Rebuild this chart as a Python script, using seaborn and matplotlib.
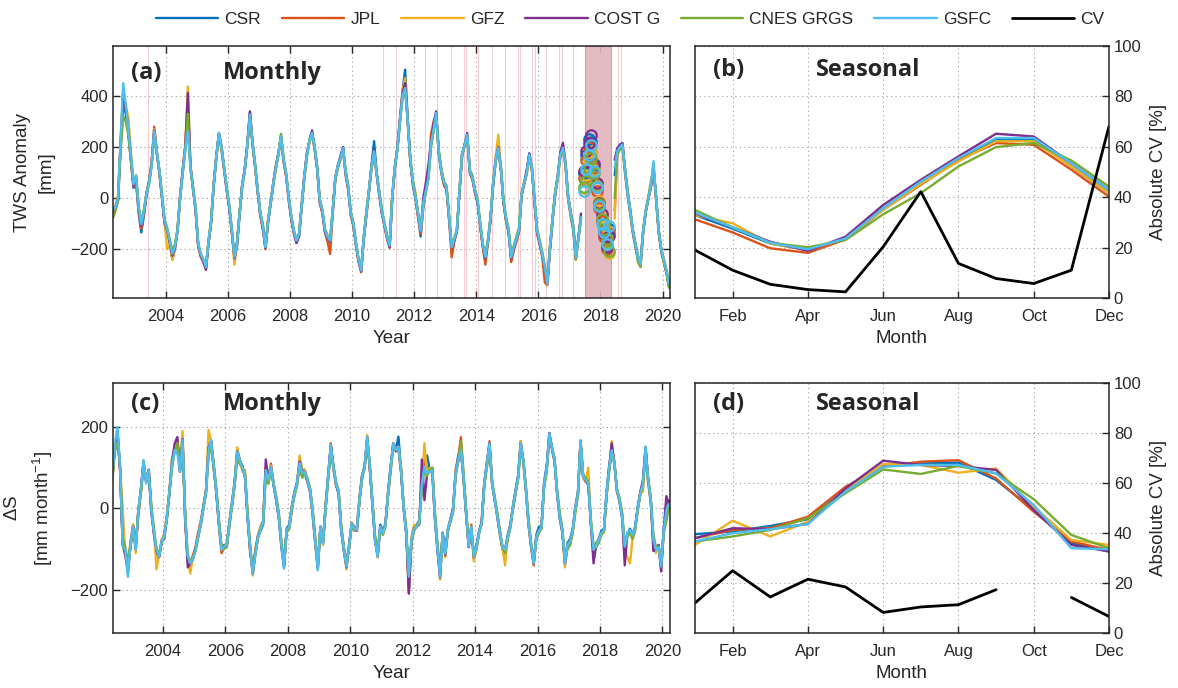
import numpy as np
import pandas as pd
import matplotlib
matplotlib.use("Agg")
import matplotlib.pyplot as plt
import seaborn as sns

nan = np.nan

# ---------------------------------------------------------------- data
products = ["CSR", "JPL", "GFZ", "COST G", "CNES GRGS", "GSFC"]
colors = ["#0072BD", "#D95319", "#EDB120", "#7E2F8E", "#77AC30", "#4DBEEE"]

tws_start = "2002-04"   # monthly TWS anomaly [mm], Apr 2002 - Apr 2020
tws_csr = [
    -60, -40, -10, 200, 380, 330, 250, 150, 40,
    60, -60, -134, -70, 10, 60, 130, 255, 175, 100, 0, -95,
    -125, -170, -225, -195, -130, 5, 105, 200, 300, 125, 40, -45,
    -185, -225, -245, -275, -175, -90, 50, 165, 250, 195, 115, 35,
    -35, -130, -225, -185, -65, 45, 110, 205, 335, 215, 125, 25,
    -65, -115, -195, -95, -25, 50, 120, 175, 240, 145, 90, -5,
    -80, -135, -175, -150, -35, 75, 165, 225, 260, 195, 115, -15,
    -55, -130, -160, -175, -55, 75, 125, 160, 200, 95, 35, -65,
    -105, -185, -245, -285, -160, -65, 25, 130, 223, 100, 15, -55,
    -105, -155, -190, 0, 115, 200, 310, 420, 503, 310, 145, 55,
    0, -70, -150, -40, 25, 80, 205, 270, 330, 175, 100, 55,
    35, -80, -200, -165, -130, 25, 165, 210, 245, 100, 75, 25,
    -15, -105, -185, -235, -170, -85, 50, 145, 195, 115, -15, -85,
    -130, -235, -200, -165, -130, 10, 55, 105, 175, 115, -15, -130,
    -175, -225, -280, -330, -200, -85, 15, 85, 175, 200, 130, 0,
    -65, -120, -235, -155, -75, nan, nan, nan, nan, nan, nan, nan,
    nan, nan, nan, nan, nan, 90, 185, 205, 215, 105, 15, -55,
    -130, -185, -235, -250, -130, -55, 0, 45, 130, 0, -130, -205,
    -245, -285, -330, -310]
tws_jpl = [
    -70, -45, -5, 210, 400, 350, 260, 140, 45,
    70, -50, -120, -60, 20, 70, 140, 280, 185, 95, 5, -100,
    -130, -175, -240, -200, -120, 10, 110, 210, 380, 120, 35, -50,
    -190, -230, -250, -265, -170, -85, 60, 165, 245, 190, 110, 30,
    -40, -135, -240, -175, -55, 55, 115, 210, 330, 210, 120, 20,
    -70, -120, -200, -85, -15, 60, 125, 170, 235, 145, 85, -10,
    -85, -140, -170, -145, -25, 85, 175, 220, 250, 190, 110, -20,
    -60, -135, -170, -218, -60, 70, 120, 155, 190, 90, 30, -70,
    -110, -185, -250, -290, -160, -70, 20, 115, 175, 90, 10, -60,
    -110, -160, -195, 0, 115, 195, 305, 410, 440, 295, 140, 50,
    -5, -75, -140, -30, 35, 90, 250, 300, 330, 175, 100, 50,
    35, -85, -231, -170, -130, 25, 170, 205, 240, 100, 75, 20,
    -20, -110, -190, -260, -175, -90, 50, 150, 200, 110, -20, -90,
    -135, -250, -205, -170, -135, 10, 55, 95, 165, 110, -20, -140,
    -180, -230, -330, -340, -200, -90, 15, 75, 165, 190, 125, -5,
    -70, -125, -240, -160, -80, nan, nan, nan, nan, nan, nan, nan,
    nan, nan, nan, nan, nan, -49, 175, 200, 205, 100, 15, -60,
    -135, -190, -240, -265, -135, -55, -5, 40, 120, -5, -135, -210,
    -250, -290, -345, -310]
tws_gfz = [
    -50, -30, 10, 220, 420, 360, 320, 180, 65,
    80, -40, -110, -55, 20, 65, 135, 270, 175, 110, 15, -90,
    -200, -180, -240, -195, -125, 0, 100, 200, 437, 130, 45, -35,
    -180, -225, -250, -280, -175, -95, 50, 155, 250, 195, 120, 45,
    -25, -125, -260, -185, -60, 50, 105, 205, 320, 215, 135, 35,
    -55, -105, -195, -90, -20, 50, 115, 165, 245, 155, 95, 5,
    -70, -130, -170, -145, -35, 75, 165, 215, 250, 200, 125, -5,
    -45, -125, -155, -170, -50, 80, 125, 155, 190, 105, 45, -55,
    -95, -175, -240, -280, -150, -55, 35, 125, 180, 95, 25, -45,
    -100, -145, -180, 5, 125, 195, 300, 420, 470, 305, 155, 65,
    25, -60, -130, -25, 30, 85, 210, 275, 320, 185, 110, 65,
    45, -70, -195, -160, -125, 30, 175, 205, 245, 110, 85, 35,
    -5, -95, -180, -225, -160, -75, 60, 160, 249, 125, -5, -75,
    -120, -225, -190, -155, -120, 20, 65, 105, 165, 125, -5, -120,
    -165, -210, -280, -330, -185, -75, 25, 85, 165, 190, 135, 10,
    -55, -110, -225, -150, -75, nan, nan, nan, nan, nan, nan, nan,
    nan, nan, nan, nan, nan, -80, 170, 195, 200, 115, 25, -45,
    -125, -175, -225, -250, -125, -45, 5, 70, 110, 10, -120, -195,
    -235, -275, -330, -300]
tws_cost = [
    -55, -35, 0, 215, 410, 355, 265, 160, 50,
    80, -40, -110, -55, 15, 65, 135, 265, 180, 105, 5, -95,
    -125, -170, -225, -195, -130, 0, 105, 195, 412, 125, 40, -45,
    -185, -225, -250, -280, -175, -95, 50, 160, 255, 205, 120, 40,
    -35, -130, -235, -185, -60, 50, 115, 215, 340, 220, 130, 30,
    -60, -115, -195, -95, -20, 55, 125, 175, 245, 150, 90, 0,
    -80, -135, -175, -145, -30, 85, 175, 225, 265, 200, 120, -10,
    -50, -130, -155, -170, -50, 80, 130, 165, 200, 100, 40, -60,
    -105, -180, -245, -285, -155, -60, 30, 125, 190, 95, 20, -50,
    -105, -150, -190, 0, 120, 195, 305, 410, 450, 305, 150, 60,
    5, -65, -130, 0, 60, 130, 215, 290, 340, 180, 110, 60,
    40, -80, -195, -165, -130, 25, 170, 210, 255, 110, 80, 30,
    -15, -105, -185, -235, -170, -80, 55, 150, 200, 120, -10, -85,
    -130, -235, -195, -160, -130, 15, 60, 110, 175, 120, -10, -130,
    -175, -220, -275, -330, -195, -80, 20, 90, 180, 217, 140, 10,
    -55, -110, -230, -150, -60, nan, nan, nan, nan, nan, nan, nan,
    nan, nan, nan, nan, nan, 150, 195, 210, 215, 115, 25, -45,
    -125, -180, -230, -255, -130, -50, 0, 50, 120, 5, -125, -200,
    -245, -290, -345, -320]
tws_cnes = [
    -80, -50, -10, 180, 320, 300, 250, 150, 60,
    90, -30, -95, -45, 20, 55, 125, 250, 175, 110, 15, -80,
    -115, -160, -205, -180, -120, 0, 95, 185, 330, 115, 40, -35,
    -175, -215, -240, -260, -165, -85, 55, 160, 250, 200, 125, 45,
    -25, -120, -225, -170, -55, 45, 105, 205, 310, 215, 130, 35,
    -55, -100, -185, -85, -15, 55, 115, 170, 252, 155, 100, 5,
    -70, -125, -160, -135, -30, 75, 160, 230, 250, 205, 125, -5,
    -45, -120, -145, -160, -45, 75, 120, 150, 185, 110, 50, -55,
    -95, -175, -235, -275, -150, -55, 30, 120, 175, 100, 30, -45,
    -95, -145, -180, 5, 115, 185, 295, 390, 420, 305, 160, 70,
    10, -55, -120, -20, 25, 75, 200, 260, 320, 190, 115, 65,
    50, -70, -185, -155, -120, 30, 165, 205, 240, 110, 90, 35,
    -5, -95, -175, -225, -165, -75, 60, 145, 190, 125, -5, -75,
    -120, -225, -185, -150, -115, 15, 55, 95, 160, 125, 0, -120,
    -165, -210, -265, -320, -185, -75, 25, 85, 165, 185, 135, 10,
    -55, -110, -240, -155, -75, nan, nan, nan, nan, nan, nan, nan,
    nan, nan, nan, nan, nan, 0, 170, 190, 200, 115, 30, -40,
    -120, -175, -250, -270, -135, -55, 0, 55, 110, 10, -120, -205,
    -250, -290, -350, -320]
tws_gsfc = [
    -45, -36, 0, 230, 450, 366, 270, 170, 55,
    87, -36, -101, -50, 16, 60, 130, 262, 180, 106, 10, -88,
    -120, -166, -218, -190, -127, 0, 100, 190, 262, 119, 40, -40,
    -179, -220, -240, -270, -170, -90, 55, 160, 256, 200, 120, 40,
    -30, -127, -231, -180, -60, 50, 110, 210, 327, 220, 130, 29,
    -60, -110, -192, -90, -20, 55, 120, 170, 243, 150, 94, 0,
    -75, -130, -166, -140, -30, 81, 171, 220, 256, 200, 120, -10,
    -49, -127, -150, -166, -49, 80, 130, 158, 197, 100, 42, -60,
    -100, -179, -240, -283, -153, -60, 29, 120, 184, 94, 20, -49,
    -101, -150, -186, 3, 120, 190, 301, 400, 431, 301, 150, 60,
    3, -62, -127, -23, 30, 81, 210, 270, 334, 180, 106, 60,
    42, -75, -192, -160, -127, 29, 171, 210, 249, 106, 81, 30,
    -10, -100, -179, -230, -166, -80, 55, 150, 197, 119, -10, -80,
    -127, -231, -192, -160, -127, 16, 60, 100, 171, 120, -10, -127,
    -170, -218, -270, -335, -192, -80, 20, 81, 170, 197, 132, 3,
    -60, -114, -231, -153, -75, nan, nan, nan, nan, nan, nan, nan,
    nan, nan, nan, nan, nan, 120, 184, 200, 210, 110, 20, -49,
    -127, -180, -230, -257, -127, -49, 0, 50, 145, 3, -127, -200,
    -240, -280, -335, -300]

gap_start = "2017-06"   # gap-filled estimates (circles), Jun 2017 - Apr 2018
gap_csr = [100, 170, 230, 220, 130, 45, -30, -85, -130, -185, -120]
gap_jpl = [80, 150, 200, 180, 120, 30, -40, -90, -150, -200, -135]
gap_gfz = [40, 90, 150, 180, 110, 55, -10, -60, -110, -180, -215]
gap_cost = [106, 184, 217, 249, 132, 60, -17, -62, -140, -192, -147]
gap_cnes = [42, 68, 120, 158, 100, 48, -23, -80, -101, -160, -205]
gap_gsfc = [29, 113, 170, 210, 106, 42, -30, -101, -134, -179, -108]

missing_months = [2003.42, 2010.99, 2011.42, 2012.34, 2012.75, 2013.17, 2013.60,
                  2013.68, 2014.07, 2014.50, 2014.92, 2015.33, 2015.41, 2015.79,
                  2015.89, 2016.25, 2016.66, 2016.75, 2017.10, 2018.57, 2018.66]
gap_band = [2017.49, 2018.34]

ds_start = "2002-05"    # monthly storage change [mm/month], May 2002 - Apr 2020
ds_csr = [
    80, 150, 190, 95, -90, -110, -150, -90,
    -50, -95, -10, 50, 110, 70, 90, -10, -60, -105, -115, -80,
    -65, -25, 40, 120, 150, 170, 95, 175, -25, -125, -140, -120,
    -100, -65, -40, 5, 40, 140, 165, 105, 35, -40, -100, -90,
    -90, -40, 15, 65, 130, 115, 105, 75, -25, -105, -155, -105,
    -70, -55, -40, 90, 65, 100, 55, 20, -25, -95, -145, -50,
    -40, 5, 40, 65, 110, 95, 85, 65, 40, -15, -85, -148,
    -45, -85, 5, 85, 150, 105, 60, 35, -55, -105, -140, -90,
    -40, -55, -50, 25, 80, 105, 170, 100, 5, -80, -115, -40,
    -55, -40, 40, 105, 155, 145, 176, 95, 0, -65, -180, -80,
    -45, -40, -30, 65, 110, 130, 95, 90, -25, -105, -160, -60,
    -105, -50, -25, 0, 90, 130, 145, 75, -15, -90, -50, -115,
    -90, -55, -35, 60, 115, 155, 60, 25, -20, -65, -100, -105,
    -65, -40, 5, 45, 80, 155, 115, 45, -40, -95, -130, -65,
    -45, -45, 65, 105, 175, 150, 115, 40, -25, -60, -130, -85,
    -75, -50, 5, 40, 160, 80, 70, 55, -40, -100, -85, -75,
    -55, -50, 40, 105, 140, 110, 45, 15, -25, -95, -65, -50,
    -65, -45, 5, 40, 65, 145, 70, 20, -80, -105, -90, -140,
    -50, -20, 0, 5]
ds_jpl = [
    75, 150, 180, 90, -85, -120, -140, -95,
    -40, -90, -15, 40, 115, 65, 95, 0, -65, -110, -120, -85,
    -60, -20, 40, 115, 150, 165, 90, 160, -30, -130, -135, -115,
    -95, -60, -30, 5, 45, 150, 160, 95, 40, -45, -110, -95,
    -95, -40, 5, 55, 135, 110, 100, 85, -15, -110, -150, -100,
    -65, -45, -30, 100, 75, 110, 60, 25, -15, -85, -140, -55,
    -50, -5, 40, 55, 115, 80, 95, 65, 50, -5, -75, -140,
    -50, -80, 10, 75, 160, 100, 55, 40, -45, -95, -135, -95,
    -35, -45, -55, 15, 75, 105, 170, 95, 15, -75, -120, -50,
    -60, -35, 35, 95, 160, 150, 150, 90, 5, -55, -209, -80,
    -55, -40, -35, 55, 120, 100, 90, 100, -15, -95, -160, -65,
    -110, -55, -30, -5, 95, 125, 175, 85, -5, -95, -40, -125,
    -95, -60, -30, 65, 105, 165, 65, 20, -15, -55, -100, -110,
    -75, -40, 0, 35, 75, 165, 115, 50, -30, -95, -140, -75,
    -60, -40, 55, 95, 185, 145, 115, 40, -15, -55, -135, -95,
    -85, -55, -5, 35, 165, 75, 65, 60, -35, -105, -95, -75,
    -65, -55, 30, 95, 150, 115, 40, 20, -15, -100, -60, -55,
    -70, -50, 0, 35, 55, 150, 65, 15, -75, -100, -95, -145,
    -55, -25, 20, 0]
ds_gfz = [
    65, 150, 175, 95, 0, -120, -135, -80,
    -40, -110, 0, 35, 110, 70, 95, 10, -55, -150, -110, -75,
    -65, -10, 50, 125, 145, 170, 100, 190, -5, -125, -160, -120,
    -105, -70, -35, 0, 40, 193, 165, 95, 45, -30, -95, -95,
    -85, -30, 10, 65, 150, 120, 90, 95, -10, -90, -165, -110,
    -70, -45, -30, 100, 75, 105, 65, 20, -20, -85, -145, -60,
    -45, 5, 30, 60, 130, 95, 95, 70, 40, -15, -90, -150,
    -50, -90, 5, 80, 150, 95, 60, 40, -50, -100, -150, -95,
    -40, -55, -50, 25, 80, 100, 180, 100, 10, -70, -115, -45,
    -65, -40, 40, 100, 150, 140, 150, 100, 5, -60, -180, -70,
    -40, -45, -30, 60, 160, 85, 100, 90, -25, -95, -175, -60,
    -120, -55, -25, -5, 90, 115, 145, 70, -10, -90, -50, -130,
    -100, -60, -35, 55, 110, 155, 60, 20, -20, -65, -100, -140,
    -70, -45, 5, 40, 75, 165, 115, 40, -40, -95, -135, -70,
    -55, -45, 60, 95, 180, 150, 120, 35, -20, -55, -145, -95,
    -90, -55, 0, 35, 165, 75, 70, 100, -40, -110, -90, -75,
    -60, -60, 35, 95, 165, 110, 40, 20, -20, -105, -120, -135,
    -75, -50, -5, 40, 40, 145, 60, 15, -80, -110, -95, -145,
    -60, -20, 10, 5]
ds_cost = [
    75, 155, 185, 95, -90, -110, -160, -85,
    -45, -100, -5, 45, 115, 65, 95, -5, -60, -105, -120, -80,
    -75, -20, 45, 115, 160, 175, 90, 170, -20, -145, -135, -125,
    -100, -70, -40, 0, 40, 150, 165, 100, 40, -35, -100, -95,
    -90, -35, 10, 60, 140, 120, 100, 80, -20, -100, -160, -110,
    -70, -50, -35, 120, 70, 100, 60, 20, -20, -90, -140, -55,
    -45, 0, 35, 60, 115, 90, 90, 70, 45, -10, -80, -145,
    -45, -85, 0, 80, 155, 100, 60, 35, -55, -100, -145, -95,
    -40, -50, -55, 20, 80, 100, 175, 100, 10, -75, -115, -45,
    -60, -40, 35, 100, 160, 140, 150, 90, 0, -60, -209, -80,
    -50, -45, -40, 120, 20, 85, 90, 95, -20, -100, -170, -60,
    -115, -55, -30, 0, 85, 120, 145, 75, -10, -95, -50, -120,
    -95, -60, -35, 60, 110, 160, 60, 20, -20, -60, -95, -100,
    -70, -45, 0, 40, 80, 160, 120, 45, -35, -90, -135, -70,
    -55, -45, 60, 100, 185, 150, 120, 35, -20, -55, -135, -90,
    -80, -55, 0, 35, 165, 80, 70, 60, -40, -135, -90, -80,
    -60, -55, 35, 100, 160, 110, 45, 20, -20, -140, -60, -55,
    -65, -45, 0, 40, 70, 150, 70, 20, -105, -100, -90, -155,
    -50, 30, 10, 0]
ds_cnes = [
    70, 140, 160, 110, -70, -95, -130, -90,
    -50, -90, -10, 40, 100, 75, 85, 5, -50, -100, -110, -85,
    -65, -25, 40, 100, 140, 160, 100, 150, -10, -115, -130, -120,
    -105, -70, -40, 0, 35, 125, 155, 110, 50, -30, -95, -100,
    -95, -45, 5, 55, 120, 110, 100, 85, -10, -95, -150, -115,
    -75, -50, -35, 80, 60, 95, 60, 30, -10, -80, -135, -60,
    -50, -5, 30, 55, 100, 75, 85, 75, 50, 0, -70, -135,
    -50, -85, 0, 70, 140, 105, 65, 45, -40, -95, -135, -100,
    -45, -50, -50, 15, 70, 100, 165, 110, 20, -65, -110, -50,
    -65, -45, 30, 90, 150, 145, 145, 100, 10, -50, -165, -85,
    -55, -45, -35, 50, 95, 80, 95, 100, -5, -85, -150, -70,
    -110, -55, -35, -10, 80, 115, 165, 90, 0, -85, -55, -120,
    -100, -60, -40, 55, 100, 150, 70, 30, -10, -55, -95, -110,
    -75, -50, 0, 35, 70, 145, 120, 55, -25, -85, -130, -75,
    -60, -50, 50, 90, 170, 150, 125, 45, -10, -50, -125, -100,
    -90, -60, -10, 30, 165, 80, 75, 65, -30, -90, -95, -85,
    -65, -55, 30, 90, 135, 115, 50, 25, -10, -90, -70, -60,
    -75, -55, -5, 35, 60, 130, 75, 25, -65, -95, -100, -120,
    -60, -30, 5, 0]
ds_gsfc = [
    70, 160, 200, 100, -94, -102, -168, -86,
    -45, -102, -4, 45, 119, 61, 94, -4, -60, -102, -119, -80,
    -70, -20, 45, 110, 143, 135, 90, 168, -20, -119, -135, -125,
    -102, -70, -37, 0, 37, 143, 168, 100, 40, -37, -102, -94,
    -90, -37, 10, 61, 139, 119, 100, 80, -20, -100, -160, -110,
    -70, -50, -37, 94, 70, 102, 61, 20, -20, -90, -148, -53,
    -45, 0, 37, 60, 111, 86, 90, 70, 45, -10, -80, -152,
    -45, -86, 0, 80, 156, 100, 61, 37, -53, -100, -143, -94,
    -37, -50, -53, 20, 78, 102, 176, 102, 10, -78, -119, -45,
    -61, -40, 37, 100, 160, 143, 152, 94, 0, -61, -168, -78,
    -50, -45, -37, 61, 102, 86, 90, 94, -20, -100, -168, -61,
    -111, -53, -30, -4, 86, 120, 143, 78, -10, -94, -45, -119,
    -94, -60, -37, 61, 110, 160, 61, 20, -20, -60, -94, -102,
    -70, -45, 4, 40, 78, 160, 119, 45, -37, -90, -135, -70,
    -55, -45, 61, 100, 184, 150, 119, 37, -20, -53, -135, -90,
    -80, -53, 0, 37, 168, 78, 70, 61, -37, -102, -90, -78,
    -60, -53, 37, 100, 143, 111, 45, 20, -20, -94, -60, -53,
    -66, -45, 0, 37, 61, 152, 70, 20, -78, -102, -94, -143,
    -53, -4, 10, 0]

months = list(range(1, 13))
month_ticks = [2, 4, 6, 8, 10, 12]
month_labels = ["Feb", "Apr", "Jun", "Aug", "Oct", "Dec"]

# seasonal TWS (panel b), plotted on the 0-100 scale of the panel
seas_tws_csr = [32.9, 27.5, 21.6, 19.0, 23.6, 35.6, 45.6, 54.8, 62.8, 62.8, 52.2, 41.6]
seas_tws_jpl = [31.2, 26.0, 19.7, 17.9, 23.2, 35.0, 44.9, 54.8, 61.5, 60.8, 50.9, 40.2]
seas_tws_gfz = [32.9, 29.6, 21.6, 19.0, 23.6, 35.0, 45.3, 54.2, 62.2, 62.2, 52.2, 41.6]
seas_tws_cost = [33.6, 28.0, 22.3, 18.7, 24.3, 36.9, 46.9, 56.2, 65.2, 64.1, 53.5, 42.9]
seas_tws_cnes = [34.9, 28.0, 21.9, 20.1, 23.0, 33.2, 41.6, 52.2, 59.9, 61.5, 54.6, 44.2]
seas_tws_gsfc = [33.9, 28.0, 21.9, 19.3, 23.6, 35.6, 46.2, 55.5, 63.5, 63.5, 53.5, 42.9]
cv_tws = [19.0, 11.0, 5.4, 3.3, 2.4, 20.3, 42.2, 13.7, 7.7, 5.7, 11.0, 68.1]

# seasonal storage change (panel d)
seas_ds_csr = [39.5, 40.6, 42.8, 45.5, 57.2, 67.2, 67.8, 68.1, 61.2, 49.2, 35.9, 32.6]
seas_ds_jpl = [37.9, 41.2, 41.9, 46.5, 58.5, 66.5, 68.5, 69.1, 61.8, 48.5, 36.6, 33.2]
seas_ds_gfz = [35.2, 44.9, 38.6, 44.5, 57.2, 67.6, 67.2, 64.1, 65.8, 50.5, 37.2, 35.2]
seas_ds_cost = [37.9, 41.9, 41.5, 43.6, 57.8, 68.9, 67.2, 66.8, 65.2, 49.2, 35.2, 32.6]
seas_ds_cnes = [36.6, 38.6, 41.2, 45.9, 55.9, 65.4, 63.6, 66.8, 63.8, 53.5, 39.2, 33.9]
seas_ds_gsfc = [36.6, 39.9, 41.5, 43.6, 56.5, 66.5, 67.2, 67.2, 63.8, 51.2, 33.9, 33.5]
cv_ds = [12.0, 24.9, 14.4, 21.5, 18.4, 8.2, 10.4, 11.3, 17.3, nan, 14.2, 6.6]

tws_series = [tws_csr, tws_jpl, tws_gfz, tws_cost, tws_cnes, tws_gsfc]
gap_series = [gap_csr, gap_jpl, gap_gfz, gap_cost, gap_cnes, gap_gsfc]
ds_series = [ds_csr, ds_jpl, ds_gfz, ds_cost, ds_cnes, ds_gsfc]
seas_tws = [seas_tws_csr, seas_tws_jpl, seas_tws_gfz, seas_tws_cost, seas_tws_cnes, seas_tws_gsfc]
seas_ds = [seas_ds_csr, seas_ds_jpl, seas_ds_gfz, seas_ds_cost, seas_ds_cnes, seas_ds_gsfc]

# ---------------------------------------------------------------- style
sns.set_theme(style="white")
plt.rcParams["font.family"] = ["Liberation Sans", "DejaVu Sans"]
plt.rcParams["mathtext.fontset"] = "custom"
plt.rcParams["mathtext.rm"] = "Liberation Sans"
plt.rcParams["mathtext.it"] = "Liberation Sans:italic"
plt.rcParams["mathtext.default"] = "regular"

TXT = "#262626"
TICK_FS = 12
LAB_FS = 13.5
TITLE_FONT = ["Open Sans", "DejaVu Sans"]
TITLE_FS = 17


def dec_years(start, n):
    p = pd.period_range(start, periods=n, freq="M")
    return np.asarray(p.year + (p.month - 0.5) / 12.0, dtype=float)


def draw_segments(ax, t, v, color, lw=1.7):
    df = pd.DataFrame({"t": t, "v": v})
    df["seg"] = df["v"].isna().cumsum()
    df = df.dropna()
    sns.lineplot(data=df, x="t", y="v", units="seg", estimator=None, color=color,
                 lw=lw, ax=ax, legend=False)


def style_axes(ax):
    for s in ax.spines.values():
        s.set_color(TXT)
        s.set_linewidth(1.1)
    ax.grid(True, ls=(0, (1, 3)), color="#9a9a9a", lw=0.8)
    ax.set_axisbelow(True)
    ax.tick_params(colors=TXT, labelsize=TICK_FS, direction="in", length=5, width=1.0)
    ax.tick_params(axis="x", pad=8)


fig = plt.figure(figsize=(11.78, 6.88), dpi=100)
ax_a = fig.add_axes([0.096, 0.567, 0.473, 0.366])
ax_b = fig.add_axes([0.590, 0.567, 0.3514, 0.366])
ax_c = fig.add_axes([0.096, 0.080, 0.473, 0.3634])
ax_d = fig.add_axes([0.590, 0.080, 0.3514, 0.3634])

# ---------------------------------------------------------------- (a)
ax = ax_a
for m in missing_months:
    ax.axvline(m, color="#f2ccd3", lw=0.8, zorder=1)
ax.axvspan(gap_band[0], gap_band[1], facecolor="#e0b4bd", edgecolor="#d29aa6",
           lw=0.8, alpha=0.9, zorder=1)
for vals, c in zip(tws_series, colors):
    draw_segments(ax, dec_years(tws_start, len(vals)), vals, c)
for gaps, c in zip(gap_series, colors):
    sns.lineplot(x=dec_years(gap_start, len(gaps)), y=gaps, ax=ax, color=c,
                 marker="o", linestyle="none", markersize=7.5,
                 markerfacecolor="none", markeredgecolor=c, markeredgewidth=1.6,
                 legend=False)
ax.set_xlim(2002.30, 2020.25)
ax.set_ylim(-390, 595)
ax.set_xticks(range(2004, 2021, 2))
ax.set_yticks([-200, 0, 200, 400])
style_axes(ax)
ax.tick_params(top=True, right=True, bottom=True, left=True)
ax.set_xlabel("Year", fontsize=LAB_FS, color=TXT, labelpad=4)
ax.set_ylabel("TWS Anomaly\n[mm]", fontsize=LAB_FS, color=TXT, linespacing=1.5)
ax.yaxis.set_label_coords(-0.105, 0.5)
ax.text(0.032, 0.893, "(a)", transform=ax.transAxes, fontsize=TITLE_FS, fontweight="bold",
        family=TITLE_FONT, va="center", ha="left")
ax.text(0.197, 0.893, "Monthly", transform=ax.transAxes, fontsize=TITLE_FS, fontweight="bold",
        family=TITLE_FONT, va="center", ha="left")

# ---------------------------------------------------------------- (c)
ax = ax_c
for vals, c in zip(ds_series, colors):
    draw_segments(ax, dec_years(ds_start, len(vals)), vals, c)
ax.set_xlim(2002.40, 2020.25)
ax.set_ylim(-306, 308)
ax.set_xticks(range(2004, 2021, 2))
ax.set_yticks([-200, 0, 200])
style_axes(ax)
ax.tick_params(top=True, right=True, bottom=True, left=True)
ax.set_xlabel("Year", fontsize=LAB_FS, color=TXT, labelpad=4)
ax.set_ylabel("$\\Delta$S\n[mm month$^{-1}$]", fontsize=LAB_FS, color=TXT, linespacing=1.5)
ax.yaxis.set_label_coords(-0.105, 0.5)
ax.text(0.032, 0.914, "(c)", transform=ax.transAxes, fontsize=TITLE_FS, fontweight="bold",
        family=TITLE_FONT, va="center", ha="left")
ax.text(0.197, 0.914, "Monthly", transform=ax.transAxes, fontsize=TITLE_FS, fontweight="bold",
        family=TITLE_FONT, va="center", ha="left")

# ---------------------------------------------------------------- (b), (d)
for ax, seas, cv, tag, ty in [(ax_b, seas_tws, cv_tws, "(b)", 0.905),
                              (ax_d, seas_ds, cv_ds, "(d)", 0.916)]:
    for vals, c, name in zip(seas, colors, products):
        sns.lineplot(x=months, y=vals, ax=ax, color=c, lw=1.7, label=name, legend=False)
    cv_df = pd.DataFrame({"m": months, "v": cv})
    cv_df["seg"] = cv_df["v"].isna().cumsum()
    cv_df = cv_df.dropna()
    sns.lineplot(data=cv_df, x="m", y="v", units="seg", estimator=None, ax=ax,
                 color="black", lw=2.0, legend=False)
    ax.set_xlim(1, 12)
    ax.set_ylim(0, 100)
    ax.set_xticks(month_ticks)
    ax.set_xticklabels(month_labels)
    ax.set_yticks([0, 20, 40, 60, 80, 100])
    style_axes(ax)
    ax.yaxis.tick_right()
    ax.yaxis.set_label_position("right")
    ax.tick_params(left=False, right=True, bottom=True, top=False)
    ax.set_xlabel("Month", fontsize=LAB_FS, color=TXT, labelpad=4)
    ax.set_ylabel("Absolute CV [%]", fontsize=LAB_FS, color=TXT)
    ax.yaxis.set_label_coords(1.10, 0.5)
    ax.text(0.043, ty, tag, transform=ax.transAxes, fontsize=TITLE_FS, fontweight="bold",
            family=TITLE_FONT, va="center", ha="left")
    ax.text(0.292, ty, "Seasonal", transform=ax.transAxes, fontsize=TITLE_FS, fontweight="bold",
            family=TITLE_FONT, va="center", ha="left")

# ---------------------------------------------------------------- legend
handles = list(ax_b.lines[:7])
labels = products + ["CV"]
fig.legend(handles, labels, loc="upper center", bbox_to_anchor=(0.535, 1.005), ncol=7,
           frameon=False, fontsize=12.5, handlelength=3.6, columnspacing=1.2,
           handletextpad=0.35, labelcolor=TXT)

fig.savefig("out.png", dpi=100)
